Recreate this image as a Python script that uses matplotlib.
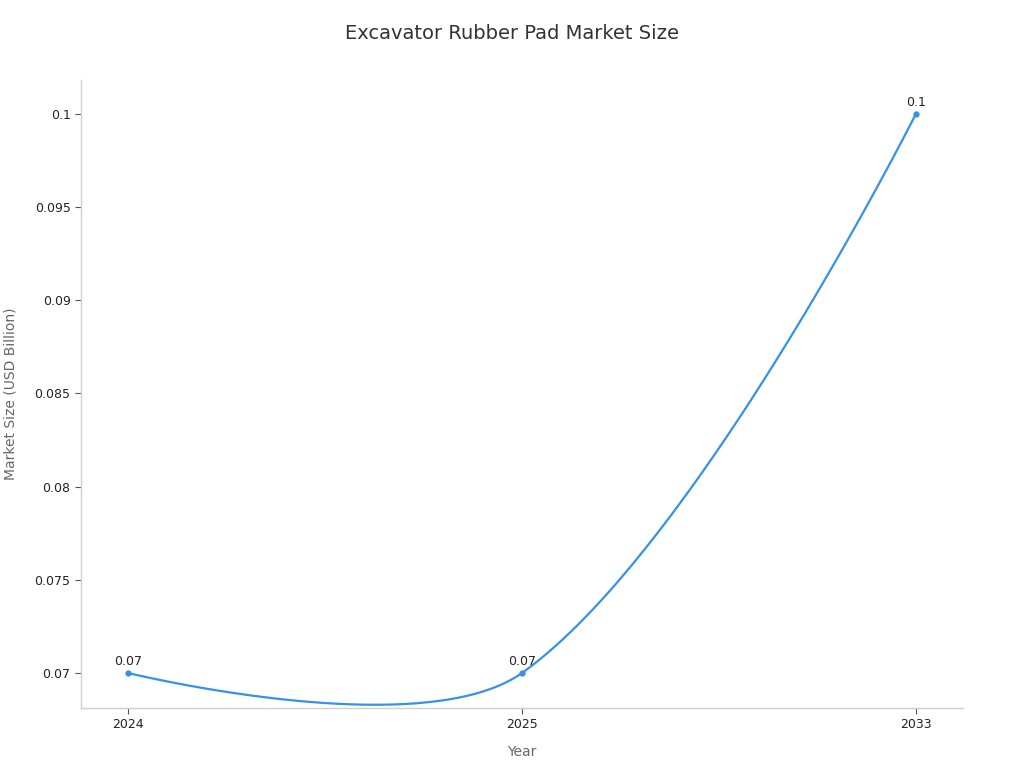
import numpy as np
import matplotlib.pyplot as plt

# ── data ─────────────────────────────────────────────
years = ["2024", "2025", "2033"]
market_size = [0.07, 0.07, 0.1]
y_ticks = [0.07, 0.075, 0.08, 0.085, 0.09, 0.095, 0.1]
y_tick_labels = ["0.07", "0.075", "0.08", "0.085", "0.09", "0.095", "0.1"]

LINE = "#3592E6"
GRID = "#D0D0D0"

fig = plt.figure(figsize=(10.24, 7.68), dpi=100)
ax = fig.add_axes([0.0791, 0.0781, 0.8613, 0.8177])

x = np.arange(len(years))
ax.set_xlim(-0.119, len(years) - 1 + 0.119)
ax.set_ylim(0.06812, 0.1018)


# smooth curve (bezier in pixel space, like a charting lib's "smooth" line)
def smooth_path(xs, ys, smooth=0.35):
    pts = ax.transData.transform(np.column_stack([xs, ys]))
    n = len(pts)
    cps = []
    for i in range(n):
        if i == 0 or i == n - 1:
            cps.append((pts[i], pts[i]))
            continue
        prev, cur, nxt = pts[i - 1], pts[i], pts[i + 1]
        v = nxt - prev
        d0 = np.hypot(*(cur - prev))
        d1 = np.hypot(*(nxt - cur))
        r = d1 / (d0 + d1)
        cps.append((cur - v * smooth * (1 - r), cur + v * smooth * r))
    out = []
    t = np.linspace(0, 1, 80)[:, None]
    for i in range(n - 1):
        p0, p3 = pts[i], pts[i + 1]
        c1, c2 = cps[i][1], cps[i + 1][0]
        seg = ((1 - t) ** 3) * p0 + 3 * ((1 - t) ** 2) * t * c1 + 3 * (1 - t) * t ** 2 * c2 + t ** 3 * p3
        out.append(seg)
    out = np.vstack(out)
    return ax.transData.inverted().transform(out)


curve = smooth_path(x, market_size)
ax.plot(curve[:, 0], curve[:, 1], color=LINE, linewidth=1.6, solid_capstyle="round")
ax.plot(x, market_size, "o", color=LINE, markersize=3.5)

for xi, v in zip(x, market_size):
    ax.annotate(f"{v:g}", (xi, v), xytext=(0, 3.5), textcoords="offset points",
                ha="center", va="bottom", fontsize=9, color="#222222")

ax.set_xticks(x)
ax.set_xticklabels(years)
ax.set_yticks(y_ticks)
ax.set_yticklabels(y_tick_labels)
ax.tick_params(axis="both", labelsize=9, colors="#222222", length=4, width=0.8)
ax.tick_params(axis="both", color="#555555")

for side in ["top", "right"]:
    ax.spines[side].set_visible(False)
for side in ["left", "bottom"]:
    ax.spines[side].set_color(GRID)
    ax.spines[side].set_linewidth(1)

ax.set_xlabel("Year", fontsize=10, color="#666666", labelpad=10)
ax.set_ylabel("Market Size (USD Billion)", fontsize=10, color="#666666", labelpad=12)
fig.text(0.5, 0.957, "Excavator Rubber Pad Market Size", ha="center", va="center",
         fontsize=14, color="#333333")

fig.savefig("out.png", dpi=100)
